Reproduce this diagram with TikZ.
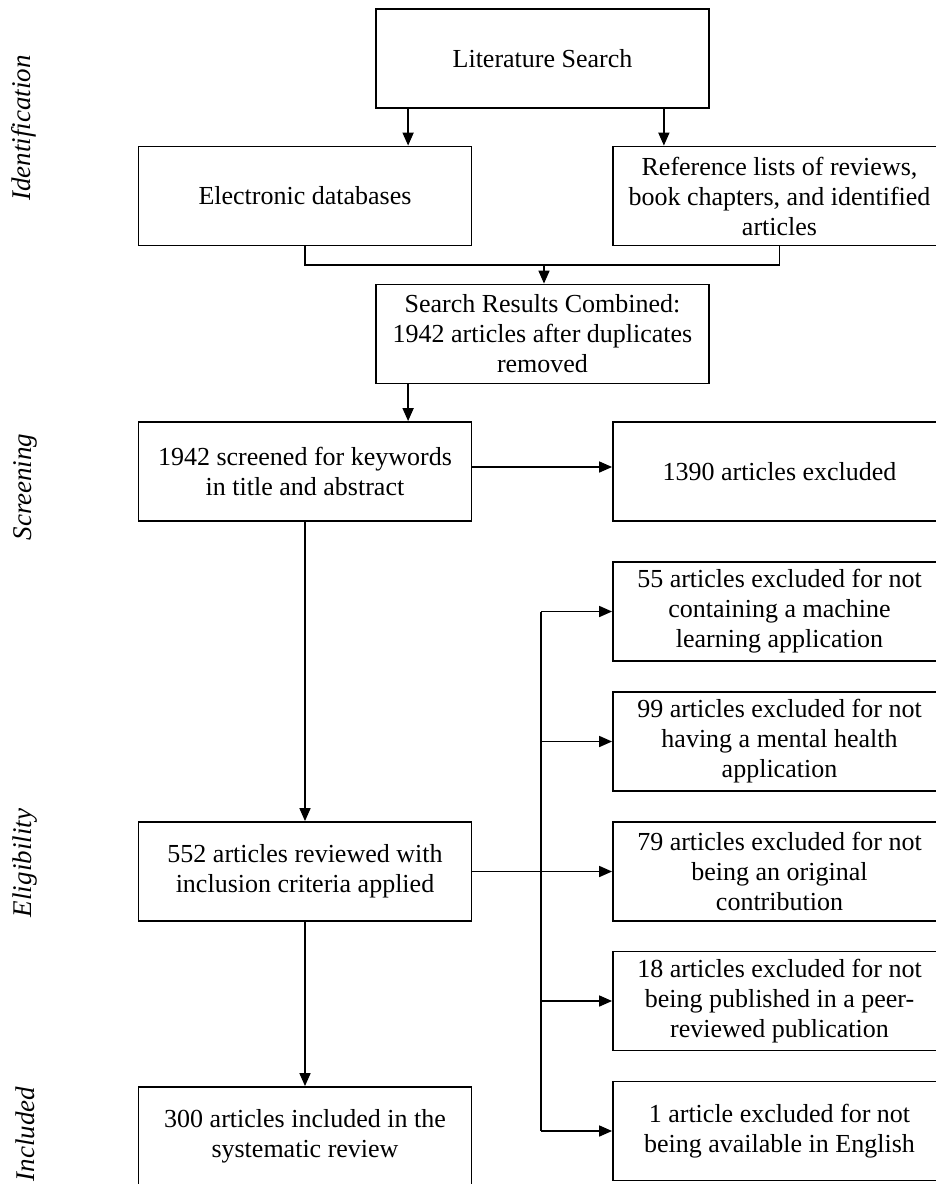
\documentclass[tikz,border=0pt]{standalone}
\usepackage{fontspec}
\setmainfont{Liberation Serif}
\usetikzlibrary{arrows.meta}
\tikzset{
  box/.style={draw, line width=1.8pt, minimum width=333pt, minimum height=99pt, inner sep=0pt, align=center, font=\fontsize{26}{30}\selectfont},
  conn/.style={line width=1.6pt},
  arr/.style={conn, -{Triangle[length=13pt,width=11pt]}},
  side/.style={rotate=90, font=\fontsize{27}{30}\selectfont\itshape, inner sep=0pt}
}
\begin{document}
\begin{tikzpicture}[x=1pt,y=-1pt]
\useasboundingbox (0,0) rectangle (936,1184);
\clip (0,0) rectangle (936,1184);
% side labels
\node[side] (lid) at (24,128) {Identification};
\node[side] (lsc) at (25,487) {Screening};
\node[side] (lel) at (25,863) {Eligibility};
\node[side] (lin) at (25,1134) {Included};
% boxes
\node[box] (lit) at (542.5,58.5) {Literature Search};
\node[box] (elec) at (305,196) {Electronic databases};
\node[box] (ref) at (779.5,196) {Reference lists of reviews,\\book chapters, and identified\\articles};
\node[box] (comb) at (542.5,334) {Search Results Combined:\\1942 articles after duplicates\\removed};
\node[box] (scr) at (305,471.5) {1942 screened for keywords\\in title and abstract};
\node[box] (exa) at (779.5,471.5) {1390 articles excluded};
\node[box] (exb) at (779.5,611.5) {55 articles excluded for not\\containing a machine\\learning application};
\node[box] (exc) at (779.5,741.5) {99 articles excluded for not\\having a mental health\\application};
\node[box] (exd) at (779.5,871.5) {79 articles excluded for not\\being an original\\contribution};
\node[box] (exe) at (779.5,1001) {18 articles excluded for not\\being published in a peer-\\reviewed publication};
\node[box] (exf) at (779.5,1131) {1 article excluded for not\\being available in English};
\node[box] (rev) at (305,871.5) {552 articles reviewed with\\inclusion criteria applied};
\node[box] (inc) at (305,1136.5) {300 articles included in the\\systematic review};
% connectors
\coordinate (a1) at ([xshift=33pt]lit.south west);
\coordinate (a2) at ([xshift=-46pt]lit.south east);
\draw[arr] (a1) -- (a1 |- elec.north);
\draw[arr] (a2) -- (a2 |- ref.north);
\coordinate (m) at (544,265);
\draw[conn] (elec.south) |- (m) -| (ref.south);
\draw[arr] (m) -- (m |- comb.north);
\coordinate (a3) at ([xshift=33pt]comb.south west);
\draw[arr] (a3) -- (a3 |- scr.north);
\coordinate (s1) at ([yshift=4.5pt]scr.east);
\draw[arr] (s1) -- (s1 -| exa.west);
\draw[arr] (scr.south) -- (rev.north);
\draw[arr] (rev.south) -- (inc.north);
\coordinate (bx) at (541,0);
\draw[conn] (bx |- exb.west) -- (bx |- exf.west);
\draw[arr] (rev.east) -- (exd.west);
\draw[arr] (bx |- exb.west) -- (exb.west);
\draw[arr] (bx |- exc.west) -- (exc.west);
\draw[arr] (bx |- exe.west) -- (exe.west);
\draw[arr] (bx |- exf.west) -- (exf.west);
\end{tikzpicture}
\end{document}
